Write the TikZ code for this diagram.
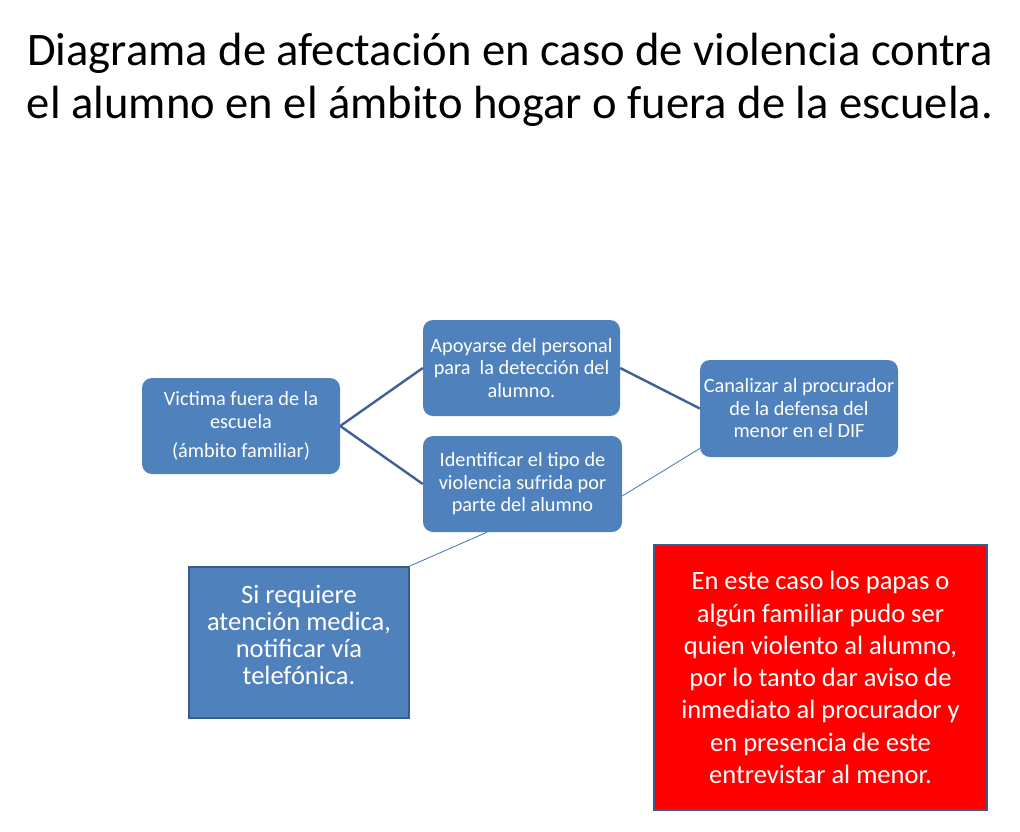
\documentclass[tikz,border=0pt]{standalone}
\usepackage{fontspec}
\setmainfont{Carlito}
\usetikzlibrary{calc}
\definecolor{boxblue}{HTML}{4F81BD}
\definecolor{edgeblue}{HTML}{385D8A}
\definecolor{lineblue}{HTML}{3E6197}
\tikzset{
  rbox/.style={rectangle, rounded corners=10pt, fill=boxblue, text=white, align=center, inner sep=1pt,
    font=\fontsize{20.3}{22.5}\selectfont},
  sqbox/.style={rectangle, draw=edgeblue, line width=2.2pt, text=white, align=center, inner sep=2pt},
  boxtext/.style={text=white, align=center, inner sep=0pt},
  thickcon/.style={draw=lineblue, line width=2.4pt},
  thincon/.style={draw=boxblue, line width=0.9pt}
}
\begin{document}
\begin{tikzpicture}[x=1pt,y=-1pt]
\useasboundingbox[fill=white] (0,0) rectangle (1020,831);
\node[font=\fontsize{46.6}{53.5}\selectfont, align=center, text=black] (title) at (510,80)
  {Diagrama de afectación en caso de violencia contra\\el alumno en el ámbito hogar o fuera de la escuela.};
\node[rbox, minimum width=198pt, minimum height=96pt] (A) at (241,426)
  {Victima fuera de la\\escuela\\[7pt](ámbito familiar)};
\node[rbox, minimum width=197pt, minimum height=96pt] (B) at (521.5,368)
  {Apoyarse del personal\\para\ \ la detección del\\alumno.};
\node[rbox, minimum width=199pt, minimum height=96pt] (C) at (522.5,484)
  {Identificar el tipo de\\violencia sufrida por\\parte del alumno};
\node[rbox, minimum width=198pt, minimum height=97pt] (D) at (799,408.5)
  {Canalizar al procurador\\de la defensa del\\menor en el DIF};
\node[sqbox, fill=boxblue, minimum width=220pt, minimum height=151pt] (E) at (299,642.5) {};
\node[boxtext, font=\fontsize{26.5}{27}\selectfont] (Et) at (299,635)
  {Si requiere\\atención medica,\\notificar vía\\telefónica.};
\node[sqbox, fill=red, minimum width=333pt, minimum height=265pt, font=\fontsize{26.5}{32.3}\selectfont] (F) at (820.5,677.5)
  {En este caso los papas o\\algún familiar pudo ser\\quien violento al alumno,\\por lo tanto dar aviso de\\inmediato al procurador y\\en presencia de este\\entrevistar al menor.};
\draw[thickcon] (A.east) -- (B.west);
\draw[thickcon] (A.east) -- (C.west);
\draw[thickcon] (B.east) -- (D.west);
\draw[thincon] ([yshift=-12pt]C.east) -- ([yshift=-40pt]D.west);
\draw[thincon] ([xshift=-35.5pt]C.south) -- (E.north east);
\end{tikzpicture}
\end{document}
